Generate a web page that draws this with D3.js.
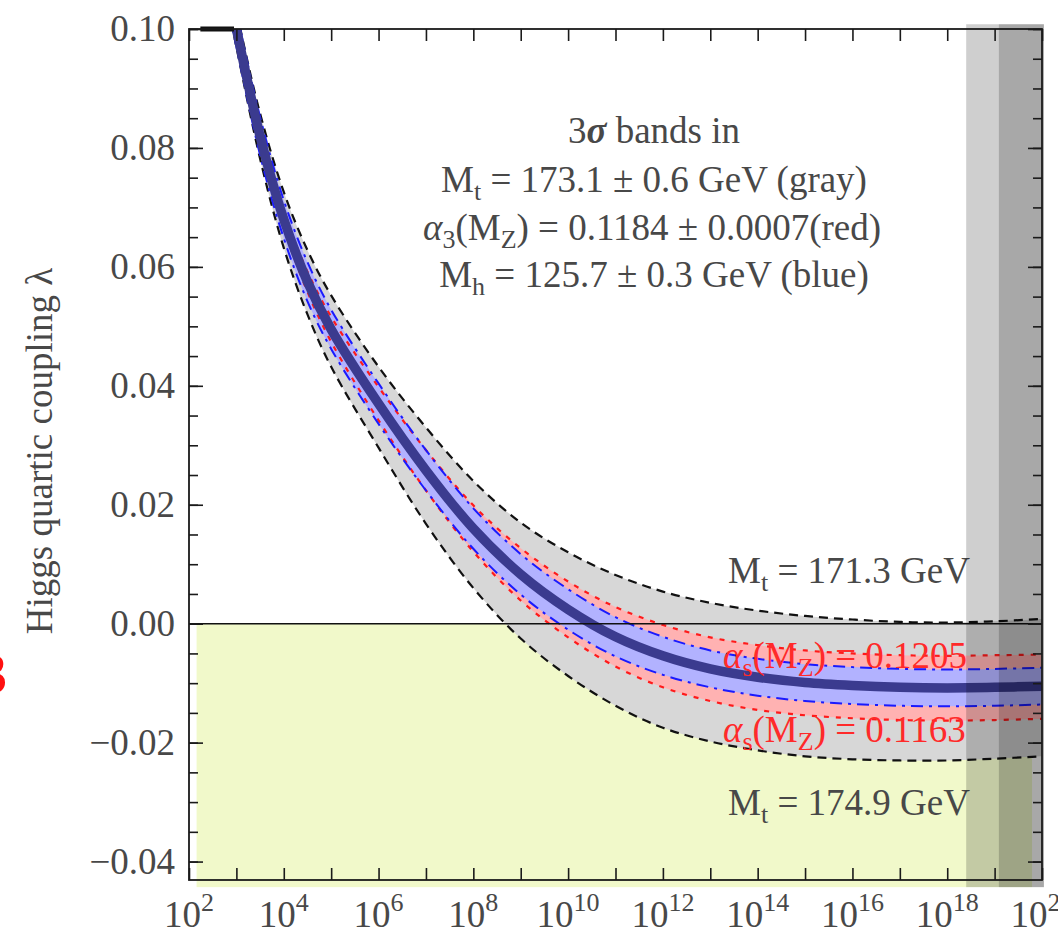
<!DOCTYPE html>
<html>
<head>
<meta charset="utf-8">
<script src="https://cdn.jsdelivr.net/npm/d3@7"></script>
<style>
body { margin: 0; background: #fff; }
text { font-family: "Liberation Serif", "Times New Roman", serif; }
</style>
</head>
<body>
<div class="canvas"></div>
<script>
// DATA ------------------------------------------------------------------------
// log10(mu / GeV) sample points
const exponents = [2.24, 2.5, 3, 3.5, 4, 4.5, 5, 6, 7, 8, 9, 10, 11, 12, 13, 14, 15, 16, 17, 18, 19, 20];

// central value (thick line)
const lamCentral = [0.128, 0.119, 0.100, 0.0820, 0.0680, 0.0575, 0.0495, 0.0370, 0.0258, 0.0160, 0.0083, 0.0024,
    -0.0022, -0.0054, -0.0076, -0.0090, -0.0099, -0.0104, -0.0107, -0.0108, -0.0107, -0.0105];
// gray band edges (Mt)
const lamMt1713 = [0.130, 0.1214, 0.103, 0.0858, 0.0726, 0.0628, 0.0552, 0.0432, 0.0330, 0.0240, 0.0170, 0.0120,
    0.0082, 0.0054, 0.0035, 0.0022, 0.0013, 0.0007, 0.0003, 0.0002, 0.0004, 0.0008];
const lamMt1749 = [0.126, 0.1166, 0.097, 0.0782, 0.0632, 0.0520, 0.0432, 0.0296, 0.0168, 0.0060, -0.0025, -0.0088,
    -0.0138, -0.0175, -0.0198, -0.0213, -0.0223, -0.0228, -0.0230, -0.0230, -0.0227, -0.0223];
// red band edges (alpha_s)
const lamAs1205 = [0.128, 0.1191, 0.1004, 0.0828, 0.0693, 0.0592, 0.0516, 0.0398, 0.0292, 0.0199, 0.0127, 0.0071,
    0.0028, -0.0002, -0.0023, -0.0036, -0.0045, -0.0050, -0.0053, -0.0054, -0.0053, -0.0052];
const lamAs1163 = [0.128, 0.1189, 0.0996, 0.0812, 0.0667, 0.0558, 0.0474, 0.0342, 0.0224, 0.0121, 0.0039, -0.0023,
    -0.0072, -0.0107, -0.0130, -0.0145, -0.0154, -0.0159, -0.0162, -0.0163, -0.0162, -0.0160];
// blue band edges (Mh)
const lamMhHi = [0.131, 0.122, 0.103, 0.0852, 0.0712, 0.0608, 0.0528, 0.0404, 0.0292, 0.0194, 0.0117, 0.0058,
    0.0011, -0.0022, -0.0045, -0.0059, -0.0068, -0.0073, -0.0076, -0.0077, -0.0076, -0.0074];
const lamMhLo = [0.125, 0.116, 0.097, 0.0788, 0.0648, 0.0542, 0.0462, 0.0336, 0.0224, 0.0126, 0.0049, -0.0010,
    -0.0055, -0.0086, -0.0107, -0.0121, -0.0130, -0.0135, -0.0138, -0.0139, -0.0138, -0.0136];

// clipped part of the curves along the top edge (log10 mu)
const topEdge = [2.24, 2.95];
// instability region (log10 mu range, lambda range)
const unstableExp = [2.16, 19.79];
const unstableLam = [-0.0443, 0];
// Planck-scale shading (log10 mu ranges)
const planckBands = [[18.40, 20.04], [19.09, 20.04]];

const yMajor = [0.10, 0.08, 0.06, 0.04, 0.02, 0.00, -0.02, -0.04];
const yMinor = d3.range(-8, 21).map(i => i * 0.005);
const xTickExps = d3.range(2, 21);
const xLabelExps = [2, 4, 6, 8, 10, 12, 14, 16, 18, 20];

// SET UP ----------------------------------------------------------------------
const svg = d3.select('.canvas')
    .append('svg')
        .attr('width', 1058)
        .attr('height', 935);

const x = d3.scaleLog().domain([1e2, 1e20]).range([189, 1042]);
const y = d3.scaleLinear().domain([-0.0431, 0.10]).range([880, 29]);
const ex = e => x(Math.pow(10, e));

const textColor = '#484848';

svg.append('clipPath').attr('id', 'plotclip')
    .append('rect').attr('x', 150).attr('y', 29).attr('width', 910).attr('height', 880);

// yellow instability region
svg.append('rect')
    .attr('x', ex(unstableExp[0]))
    .attr('y', y(unstableLam[1]))
    .attr('width', ex(unstableExp[1]) - ex(unstableExp[0]))
    .attr('height', y(unstableLam[0]) - y(unstableLam[1]))
    .attr('fill', '#f1f9ca');

const plot = svg.append('g').attr('clip-path', 'url(#plotclip)');

const curve = d3.curveCatmullRom.alpha(0.5);
const lineGen = d3.line()
    .x((d, i) => ex(exponents[i]))
    .y(d => y(d))
    .curve(curve);
const band = (lo, hi) => d3.area()
    .x((d, i) => ex(exponents[i]))
    .y0((d, i) => y(lo[i]))
    .y1((d, i) => y(hi[i]))
    .curve(curve)(exponents);

// band fills
plot.append('path').attr('d', band(lamMt1749, lamMt1713)).attr('fill', '#d7d7d7');
plot.append('path').attr('d', band(lamAs1163, lamAs1205)).attr('fill', '#ffb2b2');
plot.append('path').attr('d', band(lamMhLo, lamMhHi)).attr('fill', '#b2b2ff');

// rich text helper (sub / superscripts)
function richText(g, px, py, parts, anchor, color, size) {
    const t = g.append('text')
        .attr('x', px).attr('y', py)
        .attr('text-anchor', anchor)
        .attr('fill', color)
        .style('font-size', size + 'px');
    let shift = 0;
    parts.forEach(p => {
        const target = p.sub ? Math.round(size * 0.22) : (p.sup ? -Math.round(size * 0.42) : 0);
        const s = t.append('tspan').text(p.t).attr('dy', target - shift);
        shift = target;
        if (p.sub || p.sup) s.style('font-size', Math.round(size * 0.7) + 'px');
        if (p.it) s.style('font-style', 'italic');
        if (p.b) s.style('font-weight', 'bold');
    });
    return t;
}

// red labels (under the lines)
richText(svg, 723, 668, [{t: 'α', it: true}, {t: 's', sub: true}, {t: '(M'}, {t: 'Z', sub: true}, {t: ') = 0.1205'}], 'start', '#ff2a2a', 37);
richText(svg, 723, 742, [{t: 'α', it: true}, {t: 's', sub: true}, {t: '(M'}, {t: 'Z', sub: true}, {t: ') = 0.1163'}], 'start', '#ff2a2a', 37);

// zero line
svg.append('line')
    .attr('x1', x(1e2)).attr('x2', x(1e20))
    .attr('y1', y(0)).attr('y2', y(0))
    .attr('stroke', '#111').attr('stroke-width', 1.4);

// band edge lines
const edge = (vals, color, dash, w) => plot.append('path')
    .attr('d', lineGen(vals))
    .attr('fill', 'none')
    .attr('stroke', color)
    .attr('stroke-width', w)
    .attr('stroke-dasharray', dash);

edge(lamMt1713, '#111', '9,6', 2.2);
edge(lamMt1749, '#111', '9,6', 2.2);
edge(lamAs1205, '#ff1a1a', '5,7', 2.2);
edge(lamAs1163, '#ff1a1a', '5,7', 2.2);
edge(lamMhHi, '#1a1aff', '12,6,3,6', 2);
edge(lamMhLo, '#1a1aff', '12,6,3,6', 2);

// central line
plot.append('path')
    .attr('d', lineGen(lamCentral))
    .attr('fill', 'none')
    .attr('stroke', '#3b3b8f')
    .attr('stroke-width', 9.5);

// clipped curves along the top
svg.append('line')
    .attr('x1', ex(topEdge[0])).attr('x2', ex(topEdge[1]))
    .attr('y1', y(0.10)).attr('y2', y(0.10))
    .attr('stroke', '#111').attr('stroke-width', 5);

// black labels
richText(svg, 654, 143, [{t: '3'}, {t: 'σ', it: true, b: true}, {t: ' bands in'}], 'middle', textColor, 37);
richText(svg, 654, 192, [{t: 'M'}, {t: 't', sub: true}, {t: ' = 173.1 ± 0.6 GeV (gray)'}], 'middle', textColor, 37);
richText(svg, 652, 240, [{t: 'α', it: true}, {t: '3', sub: true}, {t: '(M'}, {t: 'Z', sub: true}, {t: ') = 0.1184 ± 0.0007(red)'}], 'middle', textColor, 37);
richText(svg, 654, 287, [{t: 'M'}, {t: 'h', sub: true}, {t: ' = 125.7 ± 0.3 GeV (blue)'}], 'middle', textColor, 37);
richText(svg, 728, 583, [{t: 'M'}, {t: 't', sub: true}, {t: ' = 171.3 GeV'}], 'start', textColor, 37);
richText(svg, 728, 815, [{t: 'M'}, {t: 't', sub: true}, {t: ' = 174.9 GeV'}], 'start', textColor, 37);

// Planck-scale shading on top
planckBands.forEach(b => {
    svg.append('rect')
        .attr('x', ex(b[0]))
        .attr('y', y(0.1008))
        .attr('width', ex(b[1]) - ex(b[0]))
        .attr('height', y(-0.0443) - y(0.1008))
        .attr('fill', 'rgba(0,0,0,0.19)');
});

// AXES ------------------------------------------------------------------------
const tickStyle = g => {
    g.select('.domain').remove();
    g.selectAll('line').attr('stroke', '#1a1a1a').attr('stroke-width', 1.6);
    g.selectAll('text').attr('fill', textColor).style('font-size', '37px')
        .style('font-family', '"Liberation Serif", "Times New Roman", serif');
};

svg.append('g').attr('transform', 'translate(189,0)')
    .call(d3.axisLeft(y).tickValues(yMinor).tickSize(-9).tickFormat(''))
    .call(tickStyle);
svg.append('g').attr('transform', 'translate(189,0)')
    .call(d3.axisLeft(y).tickValues(yMajor).tickSize(-14).tickPadding(14).tickFormat(d3.format('.2f')))
    .call(tickStyle);
svg.append('g').attr('transform', 'translate(1042,0)')
    .call(d3.axisRight(y).tickValues(yMinor).tickSize(-9).tickFormat(''))
    .call(tickStyle);
svg.append('g').attr('transform', 'translate(1042,0)')
    .call(d3.axisRight(y).tickValues(yMajor).tickSize(-14).tickFormat(''))
    .call(tickStyle);

const xTicks = xTickExps.map(e => Math.pow(10, e));
svg.append('g').attr('transform', 'translate(0,880)')
    .call(d3.axisBottom(x).tickValues(xTicks).tickSize(-12).tickFormat(''))
    .call(tickStyle);
svg.append('g').attr('transform', 'translate(0,29)')
    .call(d3.axisTop(x).tickValues(xTicks).tickSize(-12).tickFormat(''))
    .call(tickStyle);

// frame
svg.append('rect')
    .attr('x', 189).attr('y', 29)
    .attr('width', 1042 - 189).attr('height', 880 - 29)
    .attr('fill', 'none')
    .attr('stroke', '#1a1a1a')
    .attr('stroke-width', 1.8);

// x tick labels 10^n
xLabelExps.forEach(e => {
    richText(svg, ex(e), 927, [{t: '10'}, {t: String(e), sup: true}], 'middle', textColor, 37);
});

// y axis title
svg.append('text')
    .attr('transform', 'translate(52,451) rotate(-90)')
    .attr('text-anchor', 'middle')
    .attr('fill', textColor)
    .style('font-size', '37px')
    .text('Higgs quartic coupling λ');

// cropped red glyph at the left edge
svg.append('text')
    .attr('x', 7).attr('y', 693)
    .attr('text-anchor', 'end')
    .attr('fill', '#ff1010')
    .style('font-size', '58px')
    .style('font-weight', 'bold')
    .text('3');
</script>
</body>
</html>
